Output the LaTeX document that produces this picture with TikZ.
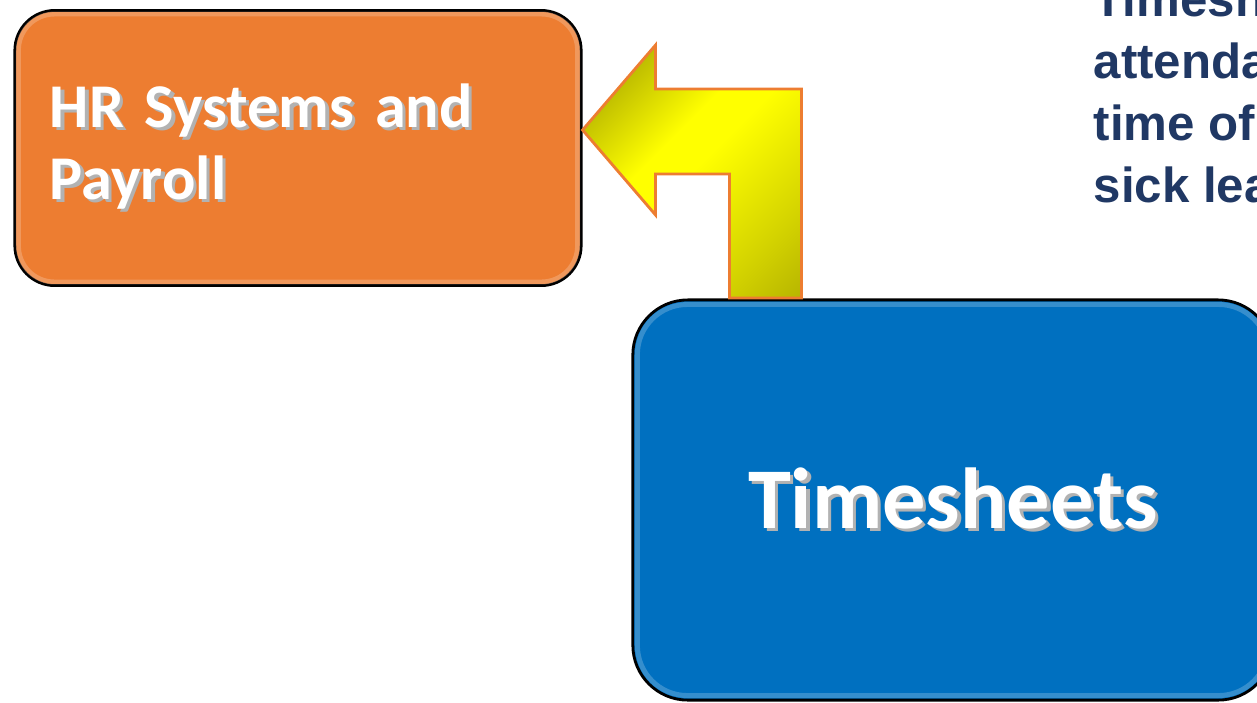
\documentclass[tikz,border=0pt]{standalone}
\usepackage{fontspec}
\setmainfont{Carlito}
\newfontfamily\arialfont{Liberation Sans}
\usetikzlibrary{calc}
\definecolor{hrorange}{HTML}{ED7D31}
\definecolor{tsblue}{HTML}{0070C0}
\definecolor{navy}{HTML}{203864}
\definecolor{olivedark}{HTML}{A09E00}
\pgfdeclareverticalshading{arrowshade}{100bp}{color(0bp)=(olivedark); color(4bp)=(olivedark); color(28bp)=(olivedark!45!yellow); color(50bp)=(yellow); color(58bp)=(yellow); color(82bp)=(olivedark); color(100bp)=(olivedark)}
\newcommand\shtext[1]{\makebox[0pt][l]{\raisebox{-0.9pt}{\hspace{0.9pt}\textcolor{black!30}{#1}}}#1}

\begin{document}
\begin{tikzpicture}[x=0.01cm, y=-0.01cm,
  box/.style={draw=black, line width=0.8pt, text=white},
  shine/.style={line width=1.4pt, opacity=0.35}]
\useasboundingbox (0,0) rectangle (1257,702);
\clip (0,0) rectangle (1257,702);
\node  (hr)[box, fill=hrorange, rounded corners=0.4cm, minimum width=5.66cm, minimum height=2.75cm, text width=4.96cm, inner xsep=0pt, align=left, font=\bfseries\fontsize{17.7}{20.6}\selectfont] at (298,148) {\shtext{HR Systems and}\\\shtext{Payroll}};
\draw[shine, draw=hrorange!40!white, rounded corners=0.36cm] ([shift={(5,5)}]hr.north west) rectangle ([shift={(-5,-5)}]hr.south east);
\node  (ts)[box, fill=tsblue, rounded corners=0.55cm, minimum width=6.4cm, minimum height=4cm, font=\bfseries\fontsize{24.6}{30}\selectfont] at (953,500) {\shtext{Timesheets}};
\draw[shine, draw=tsblue!40!white, rounded corners=0.5cm] ([shift={(6,6)}]ts.north west) rectangle ([shift={(-6,-6)}]ts.south east);
% bent arrow from timesheets up to hr
\coordinate (tip) at ($(hr.east)+(0,-18)$);
\shade[draw=hrorange, line width=0.8pt, shading=arrowshade, shading angle=45]
  (tip) -- ++(73,-85) -- ++(0,44) -- ++(146,0) -- ++(0,209) -- ++(-72,0) -- ++(0,-124) -- ++(-74,0) -- ++(0,41) -- cycle;
\node  (note)[anchor=base west, text=navy, inner sep=0pt, align=left, font=\arialfont\bfseries\fontsize{14}{17.6}\selectfont] at (1093,202) {Timesh\\attenda\\time of\\sick lea};
\end{tikzpicture}
\end{document}
